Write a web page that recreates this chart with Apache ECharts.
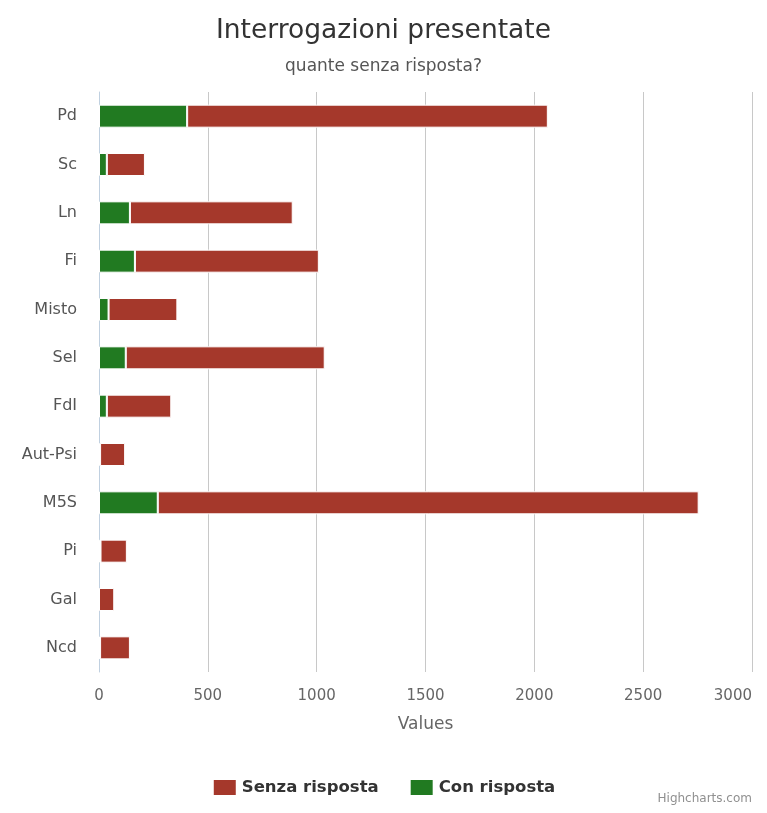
<!DOCTYPE html>
<html>
<head>
<meta charset="utf-8">
<title>Interrogazioni presentate</title>
<script src="https://cdn.jsdelivr.net/npm/echarts@6/dist/echarts.min.js"></script>
<style>
  html, body { margin: 0; padding: 0; background: #fff; }
  #chart { width: 767px; height: 813px; }
</style>
</head>
<body>
<div id="chart"></div>
<script>
// Gruppi parlamentari (dall'alto in basso)
const gruppi = ["Pd", "Sc", "Ln", "Fi", "Misto", "Sel", "FdI", "Aut-Psi", "M5S", "Pi", "Gal", "Ncd"];
// Interrogazioni con risposta (verde)
const conRisposta = [405, 36, 142, 165, 44, 123, 36, 5, 270, 7, 0, 5];
// Interrogazioni senza risposta (rosso)
const senzaRisposta = [1657, 175, 748, 845, 316, 914, 296, 115, 2485, 121, 70, 137];

const FONT = "DejaVu Sans";
const chart = echarts.init(document.getElementById("chart"));

chart.setOption({
  animation: false,
  textStyle: { fontFamily: FONT },
  title: [
    {
      text: "Interrogazioni presentate",
      left: "center",
      top: 13,
      textStyle: { fontFamily: FONT, fontSize: 26.5, fontWeight: "normal", color: "#333" }
    },
    {
      text: "quante senza risposta?",
      left: "center",
      top: 53,
      textStyle: { fontFamily: FONT, fontSize: 17, fontWeight: "normal", color: "#555" }
    }
  ],
  legend: {
    data: ["Senza risposta", "Con risposta"],
    left: "center",
    top: 773,
    icon: "rect",
    itemWidth: 24,
    itemHeight: 17,
    itemGap: 30,
    textStyle: { fontFamily: FONT, fontSize: 16.5, fontWeight: "bold", color: "#333" }
  },
  grid: { left: 99, right: 15, top: 92, bottom: 141, containLabel: false, outerBoundsMode: "none" },
  xAxis: {
    type: "value",
    min: 0,
    max: 3000,
    interval: 500,
    name: "Values",
    nameLocation: "middle",
    nameGap: 44,
    nameTextStyle: { fontFamily: FONT, fontSize: 17, color: "#666" },
    axisLine: { show: false },
    axisTick: { show: false },
    axisLabel: {
      margin: 17,
      fontFamily: FONT,
      fontSize: 15,
      color: "#666",
      alignMaxLabel: "right",
      formatter: (v) => String(v)
    },
    splitLine: { lineStyle: { color: "#c8c8c8", width: 1 } }
  },
  yAxis: {
    type: "category",
    data: gruppi,
    inverse: true,
    axisLine: { lineStyle: { color: "#c0d0e0", width: 1 } },
    axisTick: { length: 14, lineStyle: { color: "#c0d0e0" } },
    axisLabel: { margin: 22, fontFamily: FONT, fontSize: 16, color: "#555" }
  },
  series: [
    {
      name: "Con risposta",
      type: "bar",
      stack: "tot",
      barWidth: 23,
      data: conRisposta,
      itemStyle: { color: "#217a21", borderColor: "#fff", borderWidth: 1 }
    },
    {
      name: "Senza risposta",
      type: "bar",
      stack: "tot",
      barWidth: 23,
      data: senzaRisposta,
      itemStyle: { color: "#a5382b", borderColor: "#fff", borderWidth: 1 }
    }
  ],
  graphic: [
    {
      type: "text",
      right: 15,
      top: 793,
      style: { text: "Highcharts.com", font: "12px " + FONT, fill: "#909090" }
    }
  ]
});
</script>
</body>
</html>
